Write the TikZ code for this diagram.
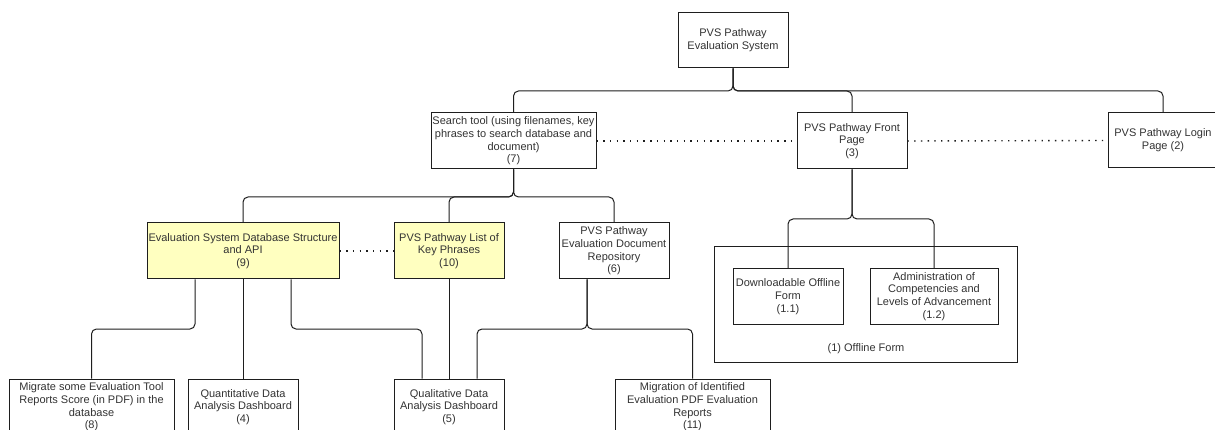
\documentclass[tikz,border=0pt]{standalone}
\usepackage{fontspec}
\setmainfont{Liberation Sans}
\definecolor{ink}{RGB}{30, 30, 30}
\definecolor{txt}{RGB}{51, 51, 51}
\definecolor{hilite}{RGB}{255, 255, 192}
\tikzset{
    box/.style={draw=ink, line width=1pt, fill=white, align=center,
        inner sep=0pt, text=txt, font=\fontsize{11}{12.7}\selectfont,
        minimum width=110, minimum height=56},
    hlbox/.style={box, fill=hilite},
    group/.style={draw=ink, line width=1pt, inner sep=0pt,
        minimum width=303, minimum height=115},
    grouplbl/.style={text=txt, font=\fontsize{11}{12.7}\selectfont, inner sep=0pt},
    edge/.style={draw=ink, line width=1pt, rounded corners=5pt},
    dotlink/.style={draw=ink, line width=1.4pt, dash pattern=on 1.4pt off 5.3pt}
}

\begin{document}
\begin{tikzpicture}[x=1pt, y=-1pt]
	\fill[white] (0,0) rectangle (1215,430);
	\useasboundingbox (0,0) rectangle (1215,430);
	\clip (0,0) rectangle (1215,430);
	
	\coordinate (bus0) at (0,91);
	\coordinate (bus1) at (0,197);
	\coordinate (bus2) at (0,219);
	\coordinate (bus3) at (0,329);
	
	\node[box, minimum height=55] (root) at (733,40.5) {PVS Pathway\\Evaluation System};
	
	\node[box, minimum width=165] (search) at (513.5,141) {Search tool (using filenames, key\\phrases to search database and\\document)\\(7)};
	\node[box] (front) at (852,141) {PVS Pathway Front\\Page\\(3)};
	\node[box, minimum height=55] (login) at (1163,140.5) {PVS Pathway Login\\Page (2)};
	
	\node[hlbox, minimum width=192] (evaldb) at (243,251) {Evaluation System Database Structure\\and API\\(9)};
	\node[hlbox] (keyphr) at (449,251) {PVS Pathway List of\\Key Phrases\\(10)};
	\node[box] (repo) at (614,251) {PVS Pathway\\Evaluation Document\\Repository\\(6)};
	
	% offline form group
	\node[group] (offline) at (865.5,304.5) {};
	\node[grouplbl] (offlinelbl) at (866,349) {(1) Offline Form};
	\node[box, minimum height=55] (dlform) at (788,296.5) {Downloadable Offline\\Form\\(1.1)};
	\node[box, minimum width=128, minimum height=55] (admin) at (934,296.5) {Administration of\\Competencies and\\Levels of Advancement\\(1.2)};
	
	\node[box, minimum width=165] (migrate) at (91.5,407) {Migrate some Evaluation Tool\\Reports Score (in PDF) in the\\database\\(8)};
	\node[box] (quant) at (243,407) {Quantitative Data\\Analysis Dashboard\\(4)};
	\node[box] (qual) at (449,407) {Qualitative Data\\Analysis Dashboard\\(5)};
	\node[box, minimum width=155] (mig11) at (692.5,407) {Migration of Identified\\Evaluation PDF Evaluation\\Reports\\(11)};
	
	\coordinate (dbl) at ([xshift=-48pt]evaldb.south);
	\coordinate (dbr) at ([xshift=48pt]evaldb.south);
	\coordinate (repob) at ([xshift=-27pt]repo.south);
	\coordinate (qualin1) at ([xshift=-27pt]qual.north);
	\coordinate (qualin2) at ([xshift=28pt]qual.north);
	
	\draw[edge] (root.south) -- (root.south |- bus0) -| (search.north);
	\draw[edge] (root.south) -- (root.south |- bus0) -| (front.north);
	\draw[edge] (root.south) -- (root.south |- bus0) -| (login.north);
	
	\draw[edge] (search.south) -- (search.south |- bus1) -| (evaldb.north);
	\draw[edge] (search.south) -- (search.south |- bus1) -| (keyphr.north);
	\draw[edge] (search.south) -- (search.south |- bus1) -| (repo.north);
	
	\draw[edge] (front.south) -- (front.south |- bus2) -| (dlform.north);
	\draw[edge] (front.south) -- (front.south |- bus2) -| (admin.north);
	
	\draw[edge] (dbl) -- (dbl |- bus3) -| (migrate.north);
	\draw[edge] (evaldb.south) -- (quant.north);
	\draw[edge] (dbr) -- (dbr |- bus3) -| (qualin1);
	\draw[edge] (keyphr.south) -- (qual.north);
	\draw[edge] (repob) -- (repob |- bus3) -| (qualin2);
	\draw[edge] (repob) -- (repob |- bus3) -| (mig11.north);
	
	\draw[dotlink] (search.east) -- (front.west);
	\draw[dotlink] (front.east) -- (login.west);
	\draw[dotlink] (evaldb.east) -- (keyphr.west);
\end{tikzpicture}
\end{document}
